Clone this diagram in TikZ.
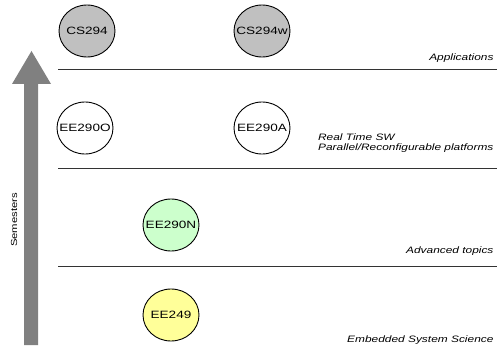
\documentclass[tikz,border=0pt]{standalone}
\usepackage{fontspec}
\setmainfont{Liberation Sans}
\newfontfamily\wide[FakeStretch=1.28]{Liberation Sans}
\usetikzlibrary{shapes.geometric}
\definecolor{coursegray}{HTML}{C0C0C0}
\definecolor{coursegreen}{HTML}{CCFFCC}
\definecolor{courseyellow}{HTML}{FFFF99}
\definecolor{arrowgray}{HTML}{808080}
\begin{document}
\begin{tikzpicture}[x=1pt, y=-1pt]
  \useasboundingbox (0,0) rectangle (501,353);
  \tikzset{
    course/.style={ellipse,draw,line width=0.9pt,minimum width=56pt,minimum height=52pt,inner sep=0pt,font=\wide\fontsize{10.6}{12}\selectfont},
    topic/.style={anchor=east,align=left,font=\wide\itshape\fontsize{9.3}{10.5}\selectfont},
    divider/.style={line width=1pt,black!80}
  }

  % semester arrow
  \fill [arrowgray] (24,345) -- (24,84) -- (12,84) -- (31.5,51) -- (51,84) -- (38,84) -- (38,345) -- cycle;
  \node [rotate=90,font=\wide\fontsize{8.8}{10}\selectfont] (semesters) at (14,220) {Semesters};

  % dividers
  \foreach \y in {70,168,266}
      \draw [divider] (58,\y) -- (497,\y);

  % courses
  \foreach \n/\l/\x/\y/\c in {cs294/CS294/87/31/coursegray, cs294w/CS294w/262/31/coursegray,
                              ee290o/EE290O/85/128/white, ee290a/EE290A/262/128/white,
                              ee290n/EE290N/171/225/coursegreen, ee249/EE249/171/315/courseyellow}
      \node [course,fill=\c] (\n) at (\x,\y) {\makebox[0pt]{\l}};

  % topics
  \node [topic] (applications) at (497,58) {Applications};
  \node [topic] (realtime) at (497,143) {Real Time SW\\Parallel/Reconfigurable platforms};
  \node [topic] (advanced) at (497,251) {Advanced topics};
  \node [topic] (embedded) at (497,340) {Embedded System Science};

\end{tikzpicture}
\end{document}
